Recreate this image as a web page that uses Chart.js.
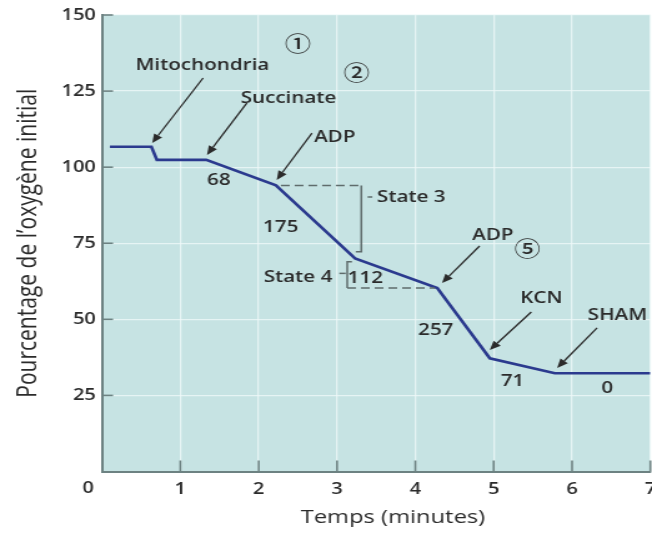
<!DOCTYPE html>
<html><head><meta charset="utf-8">
<script src="https://cdn.jsdelivr.net/npm/chart.js@4.4.1/dist/chart.umd.min.js"></script>
<style>
html,body{margin:0;padding:0;background:#fff;overflow:hidden;width:652px;height:537px;}
#wrap{position:absolute;left:0;top:0;width:522px;height:537px;transform:scaleX(1.249);transform-origin:0 0;}
</style></head><body>
<div id="wrap"><canvas id="c"></canvas></div>
<script>
// ---- data ----
const timeMinutes   = [0.10, 0.63, 0.70, 1.33, 2.22, 3.23, 4.28, 4.95, 5.78, 7.00];
const oxygenPercent = [106.7, 106.7, 102.4, 102.4, 94.0, 70.0, 60.3, 37.2, 32.3, 32.3];
const xTicks = [0, 1, 2, 3, 4, 5, 6, 7];
const yTicks = [0, 25, 50, 75, 100, 125, 150];

const rateLabels = ['68', '175', '112', '257', '71', '0'];
const rateX = [1.49, 2.28, 3.36, 4.26, 5.24, 6.45];
const rateY = [95.8, 80.3, 63.5, 46.5, 29.5, 27.3];

const additionLabels = ['Mitochondria', 'Succinate', 'ADP', 'ADP', 'KCN', 'SHAM'];
const additionX = [1.28, 2.38, 2.97, 4.99, 5.61, 6.58];
const additionY = [133.6, 122.7, 109.9, 77.7, 57.0, 51.4];
const arrowTailX = [1.29, 1.85, 2.68, 4.82, 5.48, 6.32];
const arrowTailY = [129.3, 121.1, 111.2, 74.1, 52.4, 47.2];
const arrowHeadX = [0.64, 1.34, 2.23, 4.34, 4.95, 5.81];
const arrowHeadY = [107.9, 104.0, 95.8, 61.9, 39.9, 34.0];

const stepLabels = ['①', '②', '⑤'];
const stepX = [2.50, 3.25, 5.43];
const stepY = [140.8, 131.3, 73.4];

const stateLabels = ['State 3', 'State 4'];
const state3Dash = [2.22, 3.31, 94.0];
const state3Bracket = [3.31, 94.0, 72.2, 3.24];
const state4Bracket = [3.13, 68.9, 60.3, 3.19];
const state4Dash = [3.13, 4.28, 60.3];

const FONT = '"Open Sans", "Liberation Sans", sans-serif';
const TXT = '#2b2b2b';
const W8 = '600';

function px(chart, x, y) {
  return [chart.scales.x.getPixelForValue(x), chart.scales.y.getPixelForValue(y)];
}

const annot = {
  id: 'annot',
  beforeDraw(chart) {
    const {ctx, chartArea: a} = chart;
    ctx.save();
    ctx.fillStyle = '#c6e3e3';
    ctx.fillRect(a.left, a.top, a.right - a.left, a.bottom - a.top);
    ctx.restore();
  },
  beforeDatasetsDraw(chart) {
    const {ctx, chartArea: a} = chart;
    ctx.save();
    ctx.strokeStyle = '#6d8282';
    ctx.lineWidth = 1.6;
    yTicks.forEach(v => {
      if (v === 0) return;
      const y = chart.scales.y.getPixelForValue(v);
      ctx.beginPath(); ctx.moveTo(a.left, y); ctx.lineTo(a.left + 8.8, y); ctx.stroke();
    });
    xTicks.forEach(v => {
      if (v === 0) return;
      const x = chart.scales.x.getPixelForValue(v);
      ctx.beginPath(); ctx.moveTo(x, a.bottom); ctx.lineTo(x, a.bottom - 11); ctx.stroke();
    });
    ctx.restore();
  },
  afterDatasetsDraw(chart) {
    const {ctx} = chart;
    ctx.save();
    ctx.strokeStyle = '#5f6c6c';
    ctx.lineWidth = 1.5;
    ctx.setLineDash([7, 4]);
    let p1 = px(chart, state3Dash[0], state3Dash[2]), p2 = px(chart, state3Dash[1], state3Dash[2]);
    ctx.beginPath(); ctx.moveTo(p1[0] + 4, p1[1]); ctx.lineTo(p2[0], p2[1]); ctx.stroke();
    p1 = px(chart, state4Dash[0], state4Dash[2]); p2 = px(chart, state4Dash[1], state4Dash[2]);
    ctx.beginPath(); ctx.moveTo(p1[0], p1[1]); ctx.lineTo(p2[0] - 2, p2[1]); ctx.stroke();
    ctx.setLineDash([]);
    let b = state3Bracket;
    let t = px(chart, b[0], b[1]), bt = px(chart, b[0], b[2]), tk = px(chart, b[3], b[2]);
    ctx.beginPath(); ctx.moveTo(t[0], t[1]); ctx.lineTo(bt[0], bt[1]); ctx.lineTo(tk[0], tk[1]); ctx.stroke();
    b = state4Bracket;
    t = px(chart, b[0], b[1]); bt = px(chart, b[0], b[2]); tk = px(chart, b[3], b[1]);
    ctx.beginPath(); ctx.moveTo(tk[0], tk[1]); ctx.lineTo(t[0], t[1]); ctx.lineTo(bt[0], bt[1]); ctx.stroke();
    let d1 = px(chart, 3.39, 90.2), d2 = px(chart, 3.45, 90.2);
    ctx.beginPath(); ctx.moveTo(d1[0], d1[1]); ctx.lineTo(d2[0], d2[1]); ctx.stroke();
    d1 = px(chart, 3.03, 65.1); d2 = px(chart, 3.11, 65.1);
    ctx.beginPath(); ctx.moveTo(d1[0], d1[1]); ctx.lineTo(d2[0], d2[1]); ctx.stroke();

    ctx.strokeStyle = '#2b2b2b';
    ctx.fillStyle = '#2b2b2b';
    ctx.lineWidth = 1.3;
    for (let i = 0; i < arrowTailX.length; i++) {
      const [x1, y1] = px(chart, arrowTailX[i], arrowTailY[i]);
      const [x2, y2] = px(chart, arrowHeadX[i], arrowHeadY[i]);
      const ang = Math.atan2(y2 - y1, x2 - x1);
      const L = 9, W = 3.8;
      const bx = x2 - L * Math.cos(ang), by = y2 - L * Math.sin(ang);
      ctx.beginPath(); ctx.moveTo(x1, y1); ctx.lineTo(bx, by); ctx.stroke();
      ctx.beginPath(); ctx.moveTo(x2, y2);
      ctx.lineTo(bx + W * Math.sin(ang), by - W * Math.cos(ang));
      ctx.lineTo(bx - W * Math.sin(ang), by + W * Math.cos(ang));
      ctx.closePath(); ctx.fill();
    }

    ctx.fillStyle = TXT;
    ctx.textBaseline = 'middle';
    ctx.font = W8 + ' 16.5px ' + FONT;
    ctx.textAlign = 'center';
    additionLabels.forEach((s, i) => { const [x, y] = px(chart, additionX[i], additionY[i]); ctx.fillText(s, x, y); });
    rateLabels.forEach((s, i) => { const [x, y] = px(chart, rateX[i], rateY[i]); ctx.fillText(s, x, y); });
    ctx.textAlign = 'left';
    let p = px(chart, 3.51, 90.2); ctx.fillText(stateLabels[0], p[0], p[1]);
    ctx.textAlign = 'right';
    p = px(chart, 2.94, 63.9); ctx.fillText(stateLabels[1], p[0], p[1]);
    ctx.textAlign = 'center';
    ctx.font = '500 21px "Noto Sans CJK SC", "DejaVu Sans", sans-serif';
    stepLabels.forEach((s, i) => { const [x, y] = px(chart, stepX[i], stepY[i]); ctx.fillText(s, x, y); });

    ctx.font = W8 + ' 16px ' + FONT;
    ctx.fillText(String(xTicks[0]), 70.5, 488);
    ctx.font = '19px ' + FONT;
    ctx.fillText('Temps (minutes)', 314.6, 518);
    ctx.restore();
  }
};

new Chart(document.getElementById('c'), {
  type: 'line',
  data: {
    datasets: [{
      data: timeMinutes.map((x, i) => ({x, y: oxygenPercent[i]})),
      borderColor: '#2b3a8e',
      borderWidth: 2.6,
      pointRadius: 0,
      tension: 0,
      fill: false
    }]
  },
  options: {
    responsive: true,
    maintainAspectRatio: false,
    animation: false,
    layout: {padding: {top: 15, left: 0, right: 0.8, bottom: 0}},
    plugins: {legend: {display: false}, tooltip: {enabled: false}},
    scales: {
      x: {
        type: 'linear', min: 0, max: 7,
        afterBuildTicks: s => { s.ticks = xTicks.map(v => ({value: v})); },
        ticks: {
          callback: v => (v === 0 ? '' : String(v)),
          font: {family: FONT, size: 16, weight: W8}, color: TXT, padding: 8, maxRotation: 0
        },
        grid: {color: 'rgba(240,250,250,0.75)', lineWidth: 1.3, drawTicks: false},
        border: {color: '#6d8282', width: 2},
        afterFit: s => { s.height = 65.5; s.paddingLeft = 0; s.paddingRight = 0; }
      },
      y: {
        type: 'linear', min: 0, max: 150,
        afterBuildTicks: s => { s.ticks = yTicks.map(v => ({value: v})); },
        ticks: {
          callback: v => (v === 0 ? '' : String(v)),
          font: {family: FONT, size: 16, weight: W8}, color: TXT, padding: 5
        },
        grid: {color: 'rgba(240,250,250,0.75)', lineWidth: 1.3, drawTicks: false},
        border: {color: '#6d8282', width: 2},
        title: {display: true, text: 'Pourcentage de l’oxygène initial', color: TXT,
                font: {family: FONT, size: 21}, padding: {top: 10, bottom: 0}},
        afterFit: s => { s.width = 81.7; s.paddingTop = 0; s.paddingBottom = 0; }
      }
    }
  },
  plugins: [annot]
});
</script>
</body></html>
